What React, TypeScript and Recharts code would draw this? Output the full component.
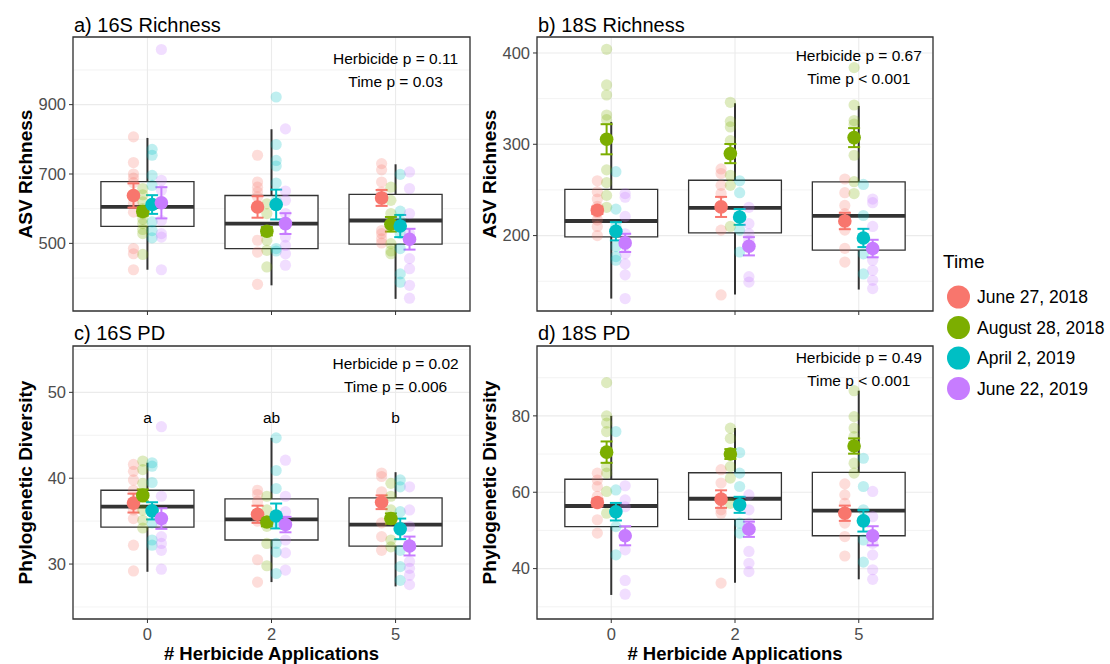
import React from 'react';
import {
  CartesianGrid,
  ComposedChart,
  ErrorBar,
  Label,
  ReferenceArea,
  ReferenceDot,
  ReferenceLine,
  Scatter,
  XAxis,
  YAxis,
} from 'recharts';

const CATEGORIES = ['0', '2', '5'];
const TIMES = ['June 27, 2018', 'August 28, 2018', 'April 2, 2019', 'June 22, 2019'];
const COLORS = ['#F8766D', '#7CAE00', '#00BFC4', '#C77CFF'];

// box stats per category: [whisker low, q1, median, q3, whisker high]
// means / se per category, per time; points per category, per time

// a) 16S Richness
const RICH16_BOX = [
  [424, 549, 605, 678, 804],
  [379, 485, 557, 638, 829],
  [340, 498, 566, 641, 728],
];
const RICH16_MEAN = [
  [638, 592, 612, 617],
  [605, 535, 612, 557],
  [631, 555, 550, 512],
];
const RICH16_SE = [
  [35, 12, 27, 45],
  [31, 12, 43, 30],
  [23, 21, 32, 30],
];
const RICH16_PTS = [
  [
    [807, 733, 700, 688, 675, 640, 615, 590, 485, 470, 424],
    [658, 640, 620, 600, 585, 570, 557, 540, 528, 468],
    [771, 754, 696, 667, 614, 562, 537, 516],
    [1059, 682, 653, 614, 566, 528, 518, 424],
  ],
  [
    [754, 677, 662, 648, 634, 509, 475, 382],
    [614, 586, 537, 509, 480, 432],
    [922, 785, 739, 723, 674, 624, 485, 478],
    [830, 651, 624, 586, 518, 494, 470, 437],
  ],
  [
    [730, 712, 677, 648, 624, 537, 528, 513, 501],
    [662, 624, 586, 547, 499, 478, 470],
    [699, 593, 566, 528, 485, 412, 388],
    [706, 658, 586, 528, 456, 427, 379, 342],
  ],
];
const RICH16_STATS = ['Herbicide p = 0.11', 'Time p = 0.03'];

// b) 18S Richness
const RICH18_BOX = [
  [131, 198.5, 216, 250.7, 324.5],
  [135.4, 203, 230.3, 260.6, 345],
  [140.9, 184, 221.5, 258.8, 342],
];
const RICH18_MEAN = [
  [227.7, 305.5, 204.7, 192],
  [231.4, 289.8, 220.4, 188.3],
  [216, 307.3, 197.4, 185.8],
];
const RICH18_SE = [
  [4, 16.5, 10, 10],
  [11, 10.5, 8.6, 10],
  [9, 10.4, 10, 9.6],
];
const RICH18_PTS = [
  [
    [260, 248, 240, 232, 225, 217, 210, 200],
    [404, 365, 354, 332, 327, 272, 258, 244, 231],
    [270, 229, 210, 188, 177, 173],
    [246, 242, 221, 202, 180, 169, 157, 131],
  ],
  [
    [273, 268, 255, 246, 231, 206, 135],
    [346, 325, 319, 304, 266, 255, 210],
    [260, 247, 219, 206, 182],
    [231, 213, 202, 195, 155, 149],
  ],
  [
    [262, 247, 233, 224, 206, 186, 171],
    [384, 343, 326, 322, 288, 259, 246],
    [256, 222, 180, 158],
    [240, 236, 210, 173, 162, 151, 142],
  ],
];
const RICH18_STATS = ['Herbicide p = 0.67', 'Time p < 0.001'];

// c) 16S PD
const PD16_BOX = [
  [29.1, 34.3, 36.7, 38.6, 41.8],
  [27.9, 32.8, 35.2, 37.6, 44.7],
  [27.4, 32.1, 34.6, 37.7, 40.7],
];
const PD16_MEAN = [
  [37.1, 38.0, 36.2, 35.3],
  [35.8, 34.9, 35.6, 34.6],
  [37.2, 35.3, 34.1, 32.1],
];
const PD16_SE = [
  [1.1, 0.7, 1.0, 1.2],
  [1.0, 0.5, 1.45, 0.9],
  [0.8, 0.6, 1.2, 1.1],
];
const PD16_PTS = [
  [
    [41.6, 40.8, 39.8, 38.6, 36.3, 35.3, 32.2, 29.2],
    [42.0, 41.0, 39.4, 36.3, 35.1, 34.2],
    [41.8, 41.4, 39.5, 34.8, 32.8, 32.2],
    [46.0, 37.9, 34.8, 33.2, 32.4, 31.6, 29.4],
  ],
  [
    [38.6, 38.1, 37.3, 35.0, 30.5, 27.9],
    [37.9, 36.3, 34.4, 32.4, 29.8],
    [44.7, 40.9, 38.8, 34.8, 32.4, 31.4, 28.9],
    [42.1, 37.9, 36.1, 32.8, 31.3, 29.3],
  ],
  [
    [40.6, 40.2, 38.4, 37.5, 34.8, 33.2, 31.6],
    [39.4, 37.9, 36.3, 32.8, 32.0],
    [39.8, 39.0, 36.1, 31.6, 29.7, 28.1],
    [39.0, 36.3, 34.4, 30.3, 29.5, 28.7, 27.6],
  ],
];
const PD16_STATS = ['Herbicide p = 0.02', 'Time p = 0.006'];
const PD16_LETTERS = ['a', 'ab', 'b'];

// d) 18S PD
const PD18_BOX = [
  [33.1, 51.0, 56.4, 63.4, 80.0],
  [36.3, 52.9, 58.3, 65.1, 76.8],
  [37.2, 48.6, 55.2, 65.2, 86.6],
];
const PD18_MEAN = [
  [57.3, 70.5, 54.9, 48.6],
  [58.2, 70.0, 56.7, 50.3],
  [54.5, 72.1, 52.5, 48.6],
];
const PD18_SE = [
  [1.0, 2.8, 2.3, 2.5],
  [2.3, 1.3, 2.1, 2.0],
  [2.0, 2.0, 2.8, 2.5],
];
const PD18_PTS = [
  [
    [65.0, 63.2, 61.5, 58.9, 52.8, 49.3],
    [88.7, 80.0, 78.1, 75.9, 66.7, 65.0, 60.2, 54.5],
    [75.9, 60.6, 54.5, 51.0, 43.6],
    [61.7, 58.0, 56.2, 44.9, 36.9, 33.3],
  ],
  [
    [65.9, 62.4, 55.4, 54.5, 36.2],
    [76.8, 74.1, 66.7, 63.7, 57.1],
    [70.4, 65.0, 61.5, 51.9, 49.3],
    [59.3, 55.4, 51.9, 44.5, 41.4, 39.2],
  ],
  [
    [62.2, 59.3, 57.1, 51.9, 48.4, 43.3],
    [86.6, 79.8, 76.8, 74.6, 67.6, 65.0],
    [68.9, 61.5, 55.4, 47.5, 41.7],
    [60.2, 53.6, 46.6, 43.6, 39.7, 37.2],
  ],
];
const PD18_STATS = ['Herbicide p = 0.49', 'Time p < 0.001'];

const FONT = '"Liberation Sans", Arial, Helvetica, sans-serif';
const DODGE = [-0.1125, -0.0375, 0.0375, 0.1125];
const HALF_BOX = 0.375;
const X_DOMAIN = [-0.6, 2.6];

const PANELS = [
  {
    title: 'a) 16S Richness', yTitle: 'ASV Richness',
    domain: [305, 1095], major: [500, 700, 900], minor: [400, 600, 800, 1000],
    box: RICH16_BOX, mean: RICH16_MEAN, se: RICH16_SE, pts: RICH16_PTS,
    stats: RICH16_STATS, statY: [1016, 950], letters: null, letterY: 0,
    left: 0, top: 0, width: 475, height: 320, yWidth: 73, mt: 37, xh: 9, bottom: false,
  },
  {
    title: 'b) 18S Richness', yTitle: 'ASV Richness',
    domain: [117.4, 417.5], major: [200, 300, 400], minor: [150, 250, 350],
    box: RICH18_BOX, mean: RICH18_MEAN, se: RICH18_SE, pts: RICH18_PTS,
    stats: RICH18_STATS, statY: [391, 366.5], letters: null, letterY: 0,
    left: 480, top: 0, width: 458, height: 320, yWidth: 57, mt: 37, xh: 9, bottom: false,
  },
  {
    title: 'c) 16S PD', yTitle: 'Phylogenetic Diversity',
    domain: [23.6, 55.4], major: [30, 40, 50], minor: [25, 35, 45, 55],
    box: PD16_BOX, mean: PD16_MEAN, se: PD16_SE, pts: PD16_PTS,
    stats: PD16_STATS, statY: [52.7, 50.0], letters: PD16_LETTERS, letterY: 46.4,
    left: 0, top: 310, width: 475, height: 354, yWidth: 73, mt: 36, xh: 45, bottom: true,
  },
  {
    title: 'd) 18S PD', yTitle: 'Phylogenetic Diversity',
    domain: [26.8, 98.3], major: [40, 60, 80], minor: [30, 50, 70, 90],
    box: PD18_BOX, mean: PD18_MEAN, se: PD18_SE, pts: PD18_PTS,
    stats: PD18_STATS, statY: [93.8, 87.7], letters: null, letterY: 0,
    left: 480, top: 310, width: 458, height: 354, yWidth: 57, mt: 36, xh: 45, bottom: true,
  },
];

function yTitle(text: string) {
  return (props: any) => {
    const vb = props.viewBox || {};
    const x = vb.x + vb.width - 41.5;
    const y = vb.y + vb.height / 2;
    return (
      <text x={x} y={y} transform={`rotate(-90 ${x} ${y})`} textAnchor="middle"
        fontSize={19} fontWeight="bold" fill="#000" fontFamily={FONT}>
        {text}
      </text>
    );
  };
}

function xTitle(props: any) {
  const vb = props.viewBox || {};
  return (
    <text x={vb.x + vb.width / 2} y={vb.y + 41} textAnchor="middle"
      fontSize={18.5} fontWeight="bold" fill="#000" fontFamily={FONT}>
      # Herbicide Applications
    </text>
  );
}

function Panel({ p }: { p: any }) {
  const [lo, hi] = p.domain;
  return (
    <div style={{ position: 'absolute', left: p.left, top: p.top }}>
      <ComposedChart width={p.width} height={p.height}
        margin={{ top: p.mt, right: 5, bottom: 0, left: 0 }}
        style={{ fontFamily: FONT }}>
        <CartesianGrid vertical={false} horizontalValues={p.minor} stroke="#EBEBEB" strokeWidth={0.6} />
        <CartesianGrid stroke="#EBEBEB" strokeWidth={1.1} />
        <XAxis type="number" dataKey="x" domain={X_DOMAIN} ticks={[0, 1, 2]} allowDataOverflow
          height={p.xh} tickSize={4} tickMargin={5} axisLine={false}
          tickLine={{ stroke: '#333333' }}
          tick={{ fontSize: 16.5, fill: '#4D4D4D' }}
          tickFormatter={(v: number) => (p.bottom ? CATEGORIES[v] : '')}>
          {p.bottom && <Label content={xTitle} />}
        </XAxis>
        <YAxis type="number" dataKey="y" domain={p.domain} ticks={p.major} allowDataOverflow
          width={p.yWidth} tickSize={4} tickMargin={3} axisLine={false}
          tickLine={{ stroke: '#333333' }}
          tick={{ fontSize: 16.5, fill: '#4D4D4D' }}>
          <Label content={yTitle(p.yTitle)} />
        </YAxis>

        {p.box.map((b: number[], c: number) => (
          <ReferenceArea key={`box${c}`} x1={c - HALF_BOX} x2={c + HALF_BOX} y1={b[1]} y2={b[3]}
            fill="#FFFFFF" fillOpacity={1} stroke="#333333" strokeWidth={1.3} />
        ))}
        {p.box.map((b: number[], c: number) => (
          <ReferenceLine key={`wu${c}`} segment={[{ x: c, y: b[3] }, { x: c, y: b[4] }]}
            stroke="#333333" strokeWidth={2} />
        ))}
        {p.box.map((b: number[], c: number) => (
          <ReferenceLine key={`wl${c}`} segment={[{ x: c, y: b[0] }, { x: c, y: b[1] }]}
            stroke="#333333" strokeWidth={2} />
        ))}
        {p.box.map((b: number[], c: number) => (
          <ReferenceLine key={`md${c}`}
            segment={[{ x: c - HALF_BOX, y: b[2] }, { x: c + HALF_BOX, y: b[2] }]}
            stroke="#333333" strokeWidth={3.8} />
        ))}

        {TIMES.map((name, t) => (
          <Scatter key={`pts${t}`} name={name} isAnimationActive={false}
            data={p.pts.flatMap((cat: number[][], c: number) =>
              cat[t].map((v) => ({ x: c + DODGE[t], y: v })))}
            shape={(s: any) => (
              <circle cx={s.cx} cy={s.cy} r={5.6} fill={COLORS[t]} fillOpacity={0.25} />
            )} />
        ))}

        {TIMES.map((name, t) => (
          <Scatter key={`mean${t}`} name={`${name} mean`} isAnimationActive={false}
            data={p.mean.map((m: number[], c: number) => ({ x: c + DODGE[t], y: m[t], se: p.se[c][t] }))}
            shape={(s: any) => <circle cx={s.cx} cy={s.cy} r={6.8} fill={COLORS[t]} />}>
            <ErrorBar dataKey="se" direction="y" width={6} stroke={COLORS[t]} strokeWidth={2}
              isAnimationActive={false} />
          </Scatter>
        ))}

        <ReferenceArea x1={X_DOMAIN[0]} x2={X_DOMAIN[1]} y1={lo} y2={hi}
          fill="none" stroke="#333333" strokeWidth={1.3} />

        {p.stats.map((s: string, i: number) => (
          <ReferenceDot key={`st${i}`} x={2} y={p.statY[i]} r={0}
            shape={(d: any) => (
              <text x={d.cx} y={d.cy} textAnchor="middle" fontSize={15.5} fill="#000" fontFamily={FONT}>
                {s}
              </text>
            )} />
        ))}
        {p.letters &&
          p.letters.map((s: string, c: number) => (
            <ReferenceDot key={`lt${c}`} x={c} y={p.letterY} r={0}
              shape={(d: any) => (
                <text x={d.cx} y={d.cy} textAnchor="middle" fontSize={15.5} fill="#000" fontFamily={FONT}>
                  {s}
                </text>
              )} />
          ))}
      </ComposedChart>
    </div>
  );
}

export default function App() {
  return (
    <div style={{ position: 'absolute', left: 0, top: 0, width: 1110, height: 664, background: '#fff', overflow: 'hidden', fontFamily: FONT }}>
      {PANELS.map((p) => (
        <Panel key={p.title} p={p} />
      ))}
      <svg width={1110} height={664} style={{ position: 'absolute', left: 0, top: 0, pointerEvents: 'none' }}>
        {PANELS.map((p) => (
          <text key={p.title} x={p.left + p.yWidth + 1} y={p.top + (p.bottom ? 30 : 31.7)} fontSize={20} fill="#000" fontFamily={FONT}>
            {p.title}
          </text>
        ))}
        <text x={943} y={268} fontSize={19} fill="#000" fontFamily={FONT}>Time</text>
        {TIMES.map((name, i) => (
          <g key={name}>
            <circle cx={958.5} cy={297 + i * 30.5} r={11.5} fill={COLORS[i]} />
            <text x={977} y={297 + i * 30.5 + 6.3} fontSize={17.5} fill="#000" fontFamily={FONT}>{name}</text>
          </g>
        ))}
      </svg>
    </div>
  );
}
